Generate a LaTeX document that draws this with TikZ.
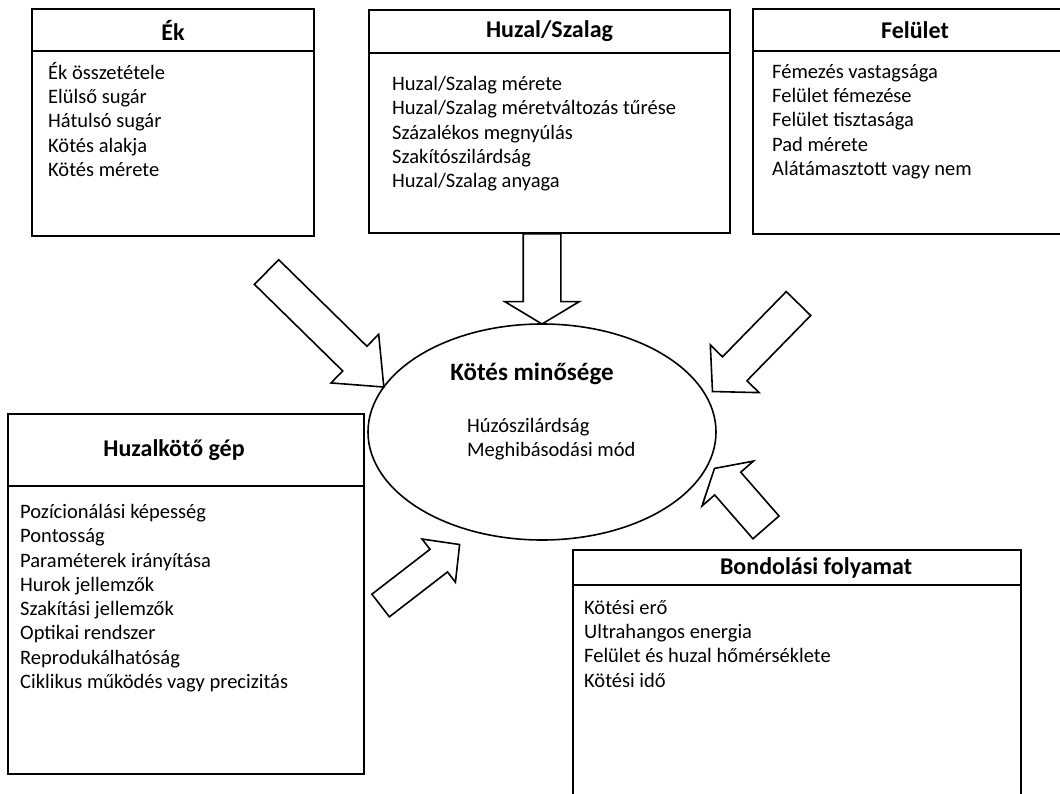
\documentclass[tikz,border=0pt]{standalone}
\usepackage{fontspec}
\setmainfont{Carlito}
\usetikzlibrary{positioning,shapes.geometric,shapes.arrows,calc}

\tikzset{
	headbox/.style={draw,line width=1.6pt,outer sep=0pt,inner sep=0pt,minimum height=42,font=\fontsize{24}{28}\selectfont\bfseries},
	bodybox/.style={draw,line width=1.6pt,outer sep=0pt,inner sep=0pt},
	itemlist/.style={align=left,inner sep=0pt,font=\fontsize{20.5}{24.3}\selectfont},
	bigarrow/.style={single arrow,draw,line width=1.6pt,fill=white,inner xsep=0pt,single arrow head indent=0pt,minimum width=1pt,anchor=tail},
}

% block arrow: name, options, tail, tip
\newcommand\blockarrow[4]{%
	\path let \p1=($(#4)-(#3)$), \n1={atan2(\y1,\x1)}, \n2={veclen(\x1,\y1)} in
		node[bigarrow,#2,rotate=\n1,minimum height=\n2] (#1) at (#3) {};}

\begin{document}
\begin{tikzpicture}[x=1pt,y=-1pt]
	\useasboundingbox (0,0) rectangle (1060,794);
	\clip (0,0) rectangle (1060,794);

	% Ek
	\node[headbox,minimum width=282] (ek) at (173,30) {Ék};
	\node[bodybox,minimum width=282,minimum height=185,below=0pt of ek] (ekb) {};
	\node[itemlist,below right=11pt and 16pt of ekb.north west] (ekl) {Ék összetétele\\Elülső sugár\\Hátulsó sugár\\Kötés alakja\\Kötés mérete};

	% huzal / szalag
	\node[headbox,minimum width=361,minimum height=43] (hsz) at (549.5,31.5) {Huzal/Szalag};
	\node[bodybox,minimum width=361,minimum height=180,below=0pt of hsz] (hszb) {};
	\node[itemlist,below right=23pt and 23pt of hszb.north west] (hszl) {Huzal/Szalag mérete\\Huzal/Szalag méretváltozás tűrése\\Százalékos megnyúlás\\Szakítószilárdság\\Huzal/Szalag anyaga};

	% felulet
	\node[headbox,minimum width=324] (fel) at (915,30) {Felület};
	\node[bodybox,minimum width=324,minimum height=183,below=0pt of fel] (felb) {};
	\node[itemlist,below right=13pt and 19pt of felb.north west] (fell) {Fémezés vastagsága\\Felület fémezése\\Felület tisztasága\\Pad mérete\\Alátámasztott vagy nem};

	% huzalkoto gep
	\node[headbox,minimum width=356,minimum height=72] (gep) at (186,450) {Huzalkötő gép\hspace*{24pt}};
	\node[bodybox,minimum width=356,minimum height=288,below=0pt of gep] (gepb) {};
	\node[itemlist,below right=18pt and 12pt of gepb.north west] (gepl) {Pozícionálási képesség\\Pontosság\\Paraméterek irányítása\\Hurok jellemzők\\Szakítási jellemzők\\Optikai rendszer\\Reprodukálhatóság\\Ciklikus működés vagy precizitás};

	% bondolasi folyamat
	\node[headbox,minimum width=448,minimum height=35] (bf) at (797,567.5) {\hspace*{38pt}Bondolási folyamat};
	\node[bodybox,minimum width=448,minimum height=240,below=0pt of bf] (bfb) {};
	\node[itemlist,below right=15pt and 11pt of bfb.north west] (bfl) {Kötési erő\\Ultrahangos energia\\Felület és huzal hőmérséklete\\Kötési idő};

	% kotes minosege
	\node[ellipse,draw,line width=1.6pt,minimum width=348,minimum height=216] (kq) at (542,432) {};
	\node[font=\fontsize{25}{28}\selectfont\bfseries] (kqt) at (532,374) {Kötés minősége};
	\node[itemlist,anchor=north west] (kql) at (467,418) {Húzószilárdság\\Meghibásodási mód};

	% arrows into the ellipse
	\coordinate (t1) at (266,271.5);
	\coordinate (t3) at (799,303);
	\coordinate (p3) at (713,391);
	\coordinate (t4) at (380,606);
	\coordinate (p4) at (459,545);
	\coordinate (t5) at (766.5,528);
	\coordinate (p5) at (715,469);
	\blockarrow{a1}{inner ysep=16.5,single arrow head extend=16.75,single arrow tip angle=80}{t1}{kq.164}
	\blockarrow{a2}{inner ysep=18,single arrow head extend=18.5,single arrow tip angle=118}{hszb.south -| kq.north}{kq.north}
	\blockarrow{a3}{inner ysep=16.3,single arrow head extend=17,single arrow tip angle=94}{t3}{p3}
	\blockarrow{a4}{inner ysep=13.5,single arrow head extend=13,single arrow tip angle=92}{t4}{p4}
	\blockarrow{a5}{inner ysep=16.5,single arrow head extend=16.8,single arrow tip angle=119}{t5}{p5}
\end{tikzpicture}
\end{document}
